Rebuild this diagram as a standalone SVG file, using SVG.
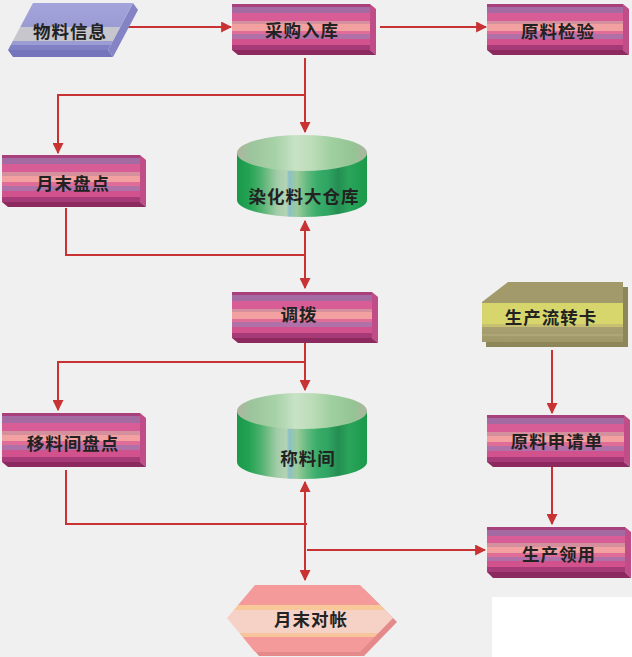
<svg xmlns="http://www.w3.org/2000/svg" width="632" height="657" viewBox="0 0 632 657">
<defs>
<linearGradient id="pink" x1="0" y1="0" x2="0" y2="1">
<stop offset="0" stop-color="#a8407c"/><stop offset="0.07" stop-color="#a8407c"/>
<stop offset="0.07" stop-color="#a46aa2"/><stop offset="0.2" stop-color="#a46aa2"/>
<stop offset="0.2" stop-color="#d85c96"/><stop offset="0.36" stop-color="#d85c96"/>
<stop offset="0.36" stop-color="#d4909c"/><stop offset="0.44" stop-color="#d4909c"/>
<stop offset="0.44" stop-color="#f2a0a0"/><stop offset="0.58" stop-color="#f2a0a0"/>
<stop offset="0.58" stop-color="#e06c98"/><stop offset="0.66" stop-color="#e06c98"/>
<stop offset="0.66" stop-color="#b070a8"/><stop offset="0.76" stop-color="#b070a8"/>
<stop offset="0.76" stop-color="#d2528e"/><stop offset="0.9" stop-color="#d2528e"/>
<stop offset="0.9" stop-color="#a63a76"/><stop offset="1" stop-color="#a63a76"/>
</linearGradient>
<linearGradient id="lav" x1="0" y1="0" x2="0" y2="1">
<stop offset="0" stop-color="#a4a4dc"/><stop offset="0.5" stop-color="#9c9cd4"/>
<stop offset="0.5" stop-color="#c6c6cc"/><stop offset="0.8" stop-color="#c6c6cc"/>
<stop offset="0.8" stop-color="#9c9cd4"/><stop offset="0.9" stop-color="#9c9cd4"/>
<stop offset="0.9" stop-color="#8080c4"/><stop offset="1" stop-color="#8080c4"/>
</linearGradient>
<linearGradient id="olive" x1="0" y1="0" x2="0" y2="1">
<stop offset="0" stop-color="#a29a6a"/><stop offset="0.35" stop-color="#a29a6a"/>
<stop offset="0.35" stop-color="#d6d66c"/><stop offset="0.7" stop-color="#d6d66c"/>
<stop offset="0.7" stop-color="#c8c070"/><stop offset="0.75" stop-color="#c8c070"/>
<stop offset="0.75" stop-color="#a8a070"/><stop offset="1" stop-color="#a09868"/>
</linearGradient>
<linearGradient id="hex" x1="0" y1="0" x2="0" y2="1">
<stop offset="0" stop-color="#f49a9a"/><stop offset="0.3" stop-color="#f49a9a"/>
<stop offset="0.3" stop-color="#f8c898"/><stop offset="0.38" stop-color="#f8c898"/>
<stop offset="0.38" stop-color="#f6d2c6"/><stop offset="0.72" stop-color="#f6d2c6"/>
<stop offset="0.72" stop-color="#f8c49c"/><stop offset="0.78" stop-color="#f8c49c"/>
<stop offset="0.78" stop-color="#f49a9a"/><stop offset="1" stop-color="#f49a9a"/>
</linearGradient>
<linearGradient id="cylBody" x1="0" y1="0" x2="1" y2="0">
<stop offset="0" stop-color="#1a984a"/><stop offset="0.1" stop-color="#26a456"/>
<stop offset="0.18" stop-color="#4cb06c"/><stop offset="0.25" stop-color="#7cc08c"/>
<stop offset="0.31" stop-color="#a4ccaa"/><stop offset="0.38" stop-color="#b4d4b4"/>
<stop offset="0.4" stop-color="#8cc0c8"/><stop offset="0.46" stop-color="#9ccc9c"/>
<stop offset="0.55" stop-color="#5cb87c"/><stop offset="0.62" stop-color="#38ac68"/>
<stop offset="0.7" stop-color="#30a462"/><stop offset="0.78" stop-color="#248e52"/>
<stop offset="0.86" stop-color="#2aa45a"/><stop offset="1" stop-color="#1a9a4a"/>
</linearGradient>
<linearGradient id="cylTop" x1="0" y1="0" x2="1" y2="0">
<stop offset="0" stop-color="#b0b4a0"/><stop offset="0.1" stop-color="#9cc49c"/>
<stop offset="0.3" stop-color="#a8d2a8"/><stop offset="0.45" stop-color="#c8e2c6"/>
<stop offset="0.58" stop-color="#bcdcb8"/><stop offset="0.72" stop-color="#a0d0a0"/>
<stop offset="0.9" stop-color="#94c494"/><stop offset="1" stop-color="#b0b4a0"/>
</linearGradient>
<marker id="ah" viewBox="0 0 10 10" refX="9" refY="5" markerWidth="5.5" markerHeight="5.5" orient="auto-start-reverse" markerUnits="strokeWidth">
<path d="M0,0 L10,5 L0,10 Z" fill="#c83232"/>
</marker>
<style>
.bg{fill:#f0f0f0}
.face{fill:url(#pink)}
.side{fill:#c04c88}
.bot{fill:#8c2a60}
.lbl{font-family:"Noto Sans CJK SC","Noto Sans",sans-serif;font-weight:bold;font-size:17.5px;fill:#222;text-anchor:middle;dominant-baseline:central;letter-spacing:1px}
.ln{fill:none;stroke:#c83232;stroke-width:2}
.arr{marker-end:url(#ah)}
.both{marker-start:url(#ah);marker-end:url(#ah)}
</style>
</defs>
<rect class="bg" x="0" y="0" width="632" height="657"/>
<rect x="492" y="597" width="140" height="60" fill="#ffffff"/>

<g id="connectors">
<path class="ln arr" d="M128,27 L231,27"/>
<path class="ln arr" d="M380,27 L486,27"/>
<path class="ln arr" d="M305,58 L305,132"/>
<path class="ln arr" d="M305,95 L58,95 L58,153"/>
<path class="ln" d="M66,208 L66,255 L305,255"/>
<path class="ln both" d="M305,221 L305,288"/>
<path class="ln arr" d="M305,343 L305,390"/>
<path class="ln arr" d="M305,362 L58,362 L58,410"/>
<path class="ln" d="M66,470 L66,524 L307,524"/>
<path class="ln both" d="M305,482 L305,580"/>
<path class="ln arr" d="M307,550 L485,550"/>
<path class="ln arr" d="M552,350 L552,413"/>
<path class="ln arr" d="M552,467 L552,524"/>
</g>

<g id="n-wuliaoxinxi">
<polygon points="8,50 108,50 113,57 13,57" fill="#7474bc"/>
<polygon points="133,3 138,10 113,57 108,50" fill="#8484c4"/>
<polygon points="33,3 133,3 108,50 8,50" fill="url(#lav)"/>
<text class="lbl" x="70" y="30">物料信息</text>
</g>

<g id="n-caigouruku">
<polygon class="side" points="370,4 376,9 376,55 370,50"/>
<polygon class="bot" points="232,50 370,50 376,55 238,55"/>
<rect class="face" x="232" y="4" width="138" height="46"/>
<text class="lbl" x="302" y="29">采购入库</text>
</g>

<g id="n-yuanliaojianyan">
<polygon class="side" points="623,4 629,9 629,55 623,50"/>
<polygon class="bot" points="487,50 623,50 629,55 493,55"/>
<rect class="face" x="487" y="4" width="136" height="46"/>
<text class="lbl" x="558" y="30">原料检验</text>
</g>

<g id="n-yuemopandian">
<polygon class="side" points="140,155 146,160 146,207 140,202"/>
<polygon class="bot" points="2,202 140,202 146,207 8,207"/>
<rect class="face" x="2" y="155" width="138" height="47"/>
<text class="lbl" x="73" y="182">月末盘点</text>
</g>

<g id="n-danghualiao">
<path d="M237,153 L237,200 A65,17 0 0 0 367,200 L367,153 Z" fill="url(#cylBody)"/>
<ellipse cx="302" cy="153" rx="65" ry="18" fill="url(#cylTop)"/>
<text class="lbl" x="304" y="195">染化料大仓库</text>
</g>

<g id="n-diaobo">
<polygon class="side" points="372,292 378,297 378,343 372,338"/>
<polygon class="bot" points="232,338 372,338 378,343 238,343"/>
<rect class="face" x="232" y="292" width="140" height="46"/>
<text class="lbl" x="299" y="313">调拨</text>
</g>

<g id="n-shengchanliuzhuanka">
<polygon points="486,307 512,287 628,287 628,347 486,347" fill="#8c8658"/>
<polygon points="482,302 508,282 623,282 623,342 482,342" fill="url(#olive)"/>
<line x1="482" y1="335" x2="623" y2="335" stroke="#b8b080" stroke-width="1"/>
<text class="lbl" x="551" y="316">生产流转卡</text>
</g>

<g id="n-yiliaojianpandian">
<polygon class="side" points="140,413 146,418 146,467 140,462"/>
<polygon class="bot" points="2,462 140,462 146,467 8,467"/>
<rect class="face" x="2" y="413" width="138" height="49"/>
<text class="lbl" x="73" y="442">移料间盘点</text>
</g>

<g id="n-chengliaojian">
<path d="M237,411 L237,462 A65,17 0 0 0 367,462 L367,411 Z" fill="url(#cylBody)"/>
<ellipse cx="302" cy="411" rx="65" ry="18" fill="url(#cylTop)"/>
<text class="lbl" x="308" y="457">称料间</text>
</g>

<g id="n-yuanliaoshenqingdan">
<polygon class="side" points="624,415 630,420 630,467 624,462"/>
<polygon class="bot" points="487,462 624,462 630,467 493,467"/>
<rect class="face" x="487" y="415" width="137" height="47"/>
<text class="lbl" x="557" y="440">原料申请单</text>
</g>

<g id="n-shengchanlingyong">
<polygon class="side" points="625,527 631,532 631,578 625,572"/>
<polygon class="bot" points="487,572 625,572 631,578 493,578"/>
<rect class="face" x="487" y="527" width="138" height="45"/>
<text class="lbl" x="559" y="553">生产领用</text>
</g>

<g id="n-yuemoduizhang">
<polygon points="259,589 364,589 397,622 364,656 259,656 231,622" fill="#e48a8a"/>
<polygon points="255,585 360,585 393,618 360,652 255,652 227,618" fill="url(#hex)"/>
<text class="lbl" x="311" y="618">月末对帐</text>
</g>
</svg>
